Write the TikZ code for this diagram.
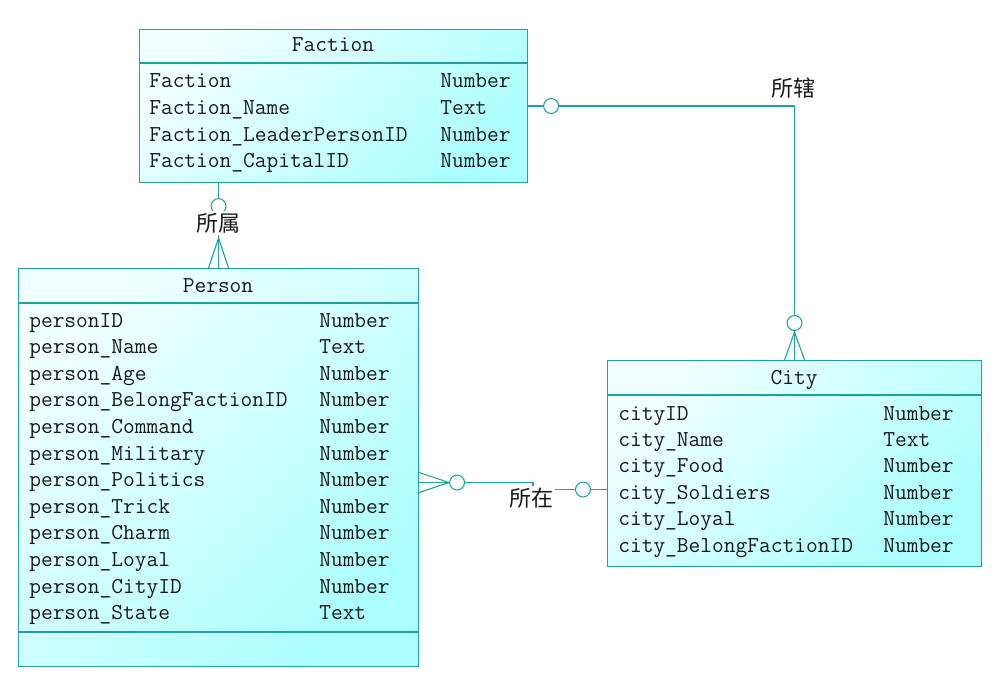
\documentclass[tikz,border=0pt]{standalone}
\usepackage{fontspec}
\newfontfamily\cjk{Noto Sans CJK SC}
\usetikzlibrary{calc}
\definecolor{erLine}{RGB}{32,160,160}
\definecolor{erLight}{RGB}{240,255,255}
\definecolor{erDeep}{RGB}{172,255,255}
\definecolor{erText}{RGB}{25,25,25}

\tikzset{
  entity/.style={draw=erLine, line width=0.8pt, anchor=north west, inner sep=0pt,
    top color=erLight, bottom color=erDeep, shading angle=45},
  sepline/.style={draw=erLine, line width=0.8pt},
  rel/.style={draw=erLine, line width=0.8pt},
  field/.style={anchor=base west, inner sep=0pt, text=erText,
    font=\ttfamily\fontsize{17.1}{20}\selectfont},
  title/.style={anchor=base, inner sep=0pt, text=erText,
    font=\ttfamily\fontsize{17.1}{20}\selectfont},
  rolelabel/.style={inner sep=1.5pt, text=erText, font=\cjk\fontsize{16.5}{18}\selectfont}
}

\begin{document}
\begin{tikzpicture}[x=0.75pt, y=-0.75pt]
  \useasboundingbox (0,0) rectangle (1003,692);

  % 1. Faction
  \node[entity, minimum width=291pt, minimum height=114.75pt] (faction) at (139,29) {};
  \draw[sepline] (139,63) -- (527,63);
  \node[title] (faction-title) at (333,52) {Faction};
  \foreach \nm/\ty [count=\i from 0] in {Faction/Number, Faction\_Name/Text,
      Faction\_LeaderPersonID/Number, Faction\_CapitalID/Number} {
    \node[field] (f-n\i) at (149,{88+26.6*\i}) {\nm};
    \node[field] (f-t\i) at (440,{88+26.6*\i}) {\ty};
  }

  % 2. Person
  \node[entity, minimum width=300pt, minimum height=298.5pt] (person) at (18,268) {};
  \draw[sepline] (18,303) -- (418,303);
  \draw[sepline] (18,632) -- (418,632);
  \node[title] (person-title) at (218,292) {Person};
  \foreach \nm/\ty [count=\i from 0] in {personID/Number, person\_Name/Text,
      person\_Age/Number, person\_BelongFactionID/Number, person\_Command/Number,
      person\_Military/Number, person\_Politics/Number, person\_Trick/Number,
      person\_Charm/Number, person\_Loyal/Number, person\_CityID/Number,
      person\_State/Text} {
    \node[field] (p-n\i) at (29,{327+26.6*\i}) {\nm};
    \node[field] (p-t\i) at (319,{327+26.6*\i}) {\ty};
  }

  % 3. City
  \node[entity, minimum width=280.5pt, minimum height=154.5pt] (city) at (607,360) {};
  \draw[sepline] (607,395) -- (981,395);
  \node[title] (city-title) at (794,384) {City};
  \foreach \nm/\ty [count=\i from 0] in {cityID/Number, city\_Name/Text,
      city\_Food/Number, city\_Soldiers/Number, city\_Loyal/Number,
      city\_BelongFactionID/Number} {
    \node[field] (c-n\i) at (618,{420+26.4*\i}) {\nm};
    \node[field] (c-t\i) at (883,{420+26.4*\i}) {\ty};
  }

  % Faction -- Person (suoshu)
  \draw[rel] (person.north |- faction.south) -- (person.north);
  \draw[rel] ($(person.north)+(-10,0)$) -- ($(person.north)+(0,-30)$) -- ($(person.north)+(10,0)$);
  \draw[rel, fill=white] ($(person.north |- faction.south)+(0,23)$) circle (5.6pt);
  \node[rolelabel, fill=white] (lbl-belong) at (218,223) {所属};

  % Faction -- City (suoxia)
  \draw[rel] (faction.east) -| (city.north);
  \draw[rel] ($(city.north)+(-10,0)$) -- ($(city.north)+(0,-28)$) -- ($(city.north)+(10,0)$);
  \draw[rel, fill=white] ($(city.north)+(0,-37)$) circle (5.6pt);
  \draw[rel, fill=white] ($(faction.east)+(23,0)$) circle (5.6pt);
  \node[rolelabel] (lbl-rule) at (793,88) {所辖};

  % Person -- City (suozai)
  \coordinate (pc-from) at ($(person.east)+(0,15)$);
  \coordinate (pc-to) at ($(city.west)+(0,26)$);
  \coordinate (pc-bend) at (533,0);
  \draw[rel] (pc-from) -| (pc-bend |- pc-to) -- (pc-to);
  \draw[rel] ($(pc-from)+(0,-10)$) -- ($(pc-from)+(30,0)$) -- ($(pc-from)+(0,10)$);
  \draw[rel, fill=white] ($(pc-from)+(38,0)$) circle (5.6pt);
  \draw[rel, fill=white] ($(pc-to)+(-24,0)$) circle (5.6pt);
  \node[rolelabel, fill=white] (lbl-in) at (531,498) {所在};
\end{tikzpicture}
\end{document}
